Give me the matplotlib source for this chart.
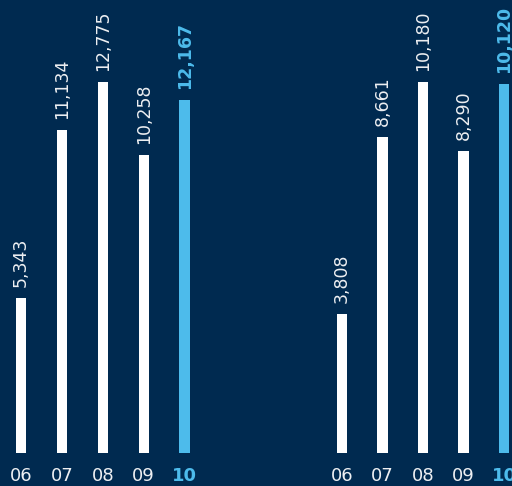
import matplotlib
matplotlib.use("Agg")
import matplotlib.pyplot as plt

years = ["06", "07", "08", "09", "10"]
left_values = [5343, 11134, 12775, 10258, 12167]
right_values = [3808, 8661, 10180, 8290, 10120]

BG = "#002A50"
WHITE = "#FFFFFF"
BLUE = "#4DBBEB"
TXT = "#EDEFF2"

plt.rcParams['font.family'] = ['DejaVu Sans']

W, H = 512, 486
fig = plt.figure(figsize=(W / 100, H / 100), dpi=100)
fig.patch.set_facecolor(BG)

bottom_px = 33
def make_ax(x0, x1, xlim, values):
    ax = fig.add_axes([x0 / W, bottom_px / H, (x1 - x0) / W, (H - bottom_px) / H])
    ax.set_facecolor(BG)
    x = list(range(len(values)))
    colors = [WHITE] * (len(values) - 1) + [BLUE]
    ax.bar(x, values, width=0.25, color=colors)
    ax.set_xlim(*xlim)
    ax.set_ylim(0, max(values) * 453 / 371)
    for i, v in enumerate(values):
        last = i == len(values) - 1
        ax.annotate(f"{v:,}", (i, v), xytext=(0, 8), textcoords="offset points",
                    rotation=90, ha="center", va="bottom", fontsize=12.5,
                    color=BLUE if last else TXT,
                    fontweight="bold" if last else "normal")
    ax.set_xticks(x)
    ax.set_xticklabels(years)
    ax.tick_params(axis="x", length=0, pad=10, labelsize=13, colors=TXT)
    lbls = ax.get_xticklabels()
    lbls[-1].set_color(BLUE)
    lbls[-1].set_fontweight("bold")
    ax.set_yticks([])
    for s in ax.spines.values():
        s.set_visible(False)
    return ax

make_ax(0, 205, (-21 / 40.9, (205 - 21) / 40.9), left_values)
make_ax(320, 512, ((320 - 342) / 40.5, (512 - 342) / 40.5), right_values)

fig.savefig("out.png", dpi=100, facecolor=BG)
